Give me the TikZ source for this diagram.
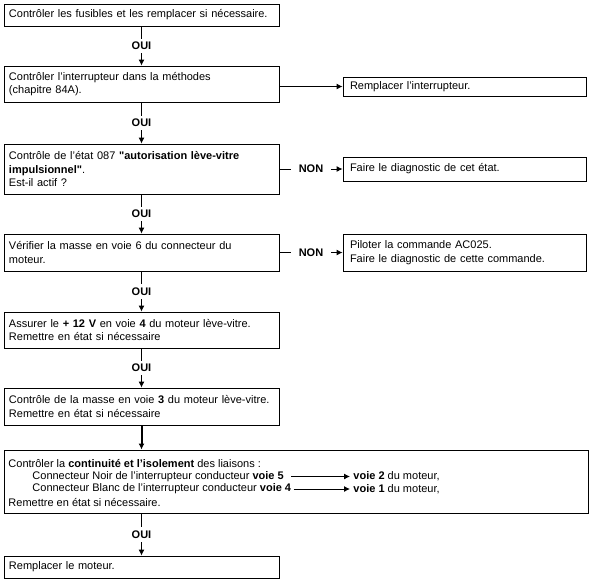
\documentclass[tikz,border=0pt]{standalone}
\usepackage{fontspec}
\setmainfont{Liberation Sans}
\usetikzlibrary{arrows.meta}

\begin{document}
\begin{tikzpicture}[x=1pt,y=-1pt,line width=0.9pt]
\tikzstyle{every node}=[font=\fontsize{11}{13.5}\selectfont]
\tikzstyle{box}=[draw, rectangle, inner xsep=5pt, inner ysep=0pt, text width=265pt, align=left]
\tikzstyle{rbox}=[box, inner xsep=7pt, text width=229pt]
\tikzstyle{lab}=[fill=white, font=\fontsize{11}{13.5}\selectfont\bfseries, inner xsep=8pt, inner ysep=3.5pt]
\tikzstyle{link}=[-{Latex[length=6pt,width=6pt]}]
\useasboundingbox (0,0) rectangle (592,579);
% main column
\node (b1) [box, minimum height=22pt] at (141.5,15) {Contrôler les fusibles et les remplacer si nécessaire.};
\node (b2) [box, minimum height=36pt] at (141.5,84) {Contrôler l'interrupteur dans la méthodes\\(chapitre 84A).};
\node (b3) [box, minimum height=50pt] at (141.5,169) {Contrôle de l'état 087 \textbf{\textquotedbl autorisation lève-vitre}\\\textbf{impulsionnel\textquotedbl}.\\Est-il actif ?};
\node (b4) [box, minimum height=37pt] at (141.5,252.5) {Vérifier la masse en voie 6 du connecteur du\\moteur.};
\node (b5) [box, minimum height=36pt] at (141.5,330) {Assurer le \textbf{+ 12 V} en voie \textbf{4} du moteur lève-vitre.\\Remettre en état si nécessaire};
\node (b6) [box, minimum height=37pt] at (141.5,406.5) {Contrôle de la masse en voie \textbf{3} du moteur lève-vitre.\\Remettre en état si nécessaire};
\node (b7) [draw, rectangle, minimum width=584pt, minimum height=63pt] at (296,481.5) {};
\node (b8) [box, minimum height=22pt] at (141.5,567) {Remplacer le moteur.};
% right column
\node (r1) [rbox, minimum height=19pt] at (464.5,86.5) {Remplacer l'interrupteur.};
\node (r2) [rbox, minimum height=24pt] at (464.5,169) {Faire le diagnostic de cet état.};
\node (r3) [rbox, minimum height=37pt] at (464.5,252.5) {Piloter la commande AC025.\\Faire le diagnostic de cette commande.};
% text of the wide box
\node (t1) [anchor=west, inner sep=0pt] at (8,464) {Contrôler la \textbf{continuité et l'isolement} des liaisons :};
\node (n5) [anchor=west, inner sep=0pt] at (32,476.5) {Connecteur Noir de l'interrupteur conducteur \textbf{voie 5}};
\node (n4) [anchor=west, inner sep=0pt] at (32,489) {Connecteur Blanc de l'interrupteur conducteur \textbf{voie 4}};
\node (t4) [anchor=west, inner sep=0pt] at (8,502) {Remettre en état si nécessaire.};
\node (m2) [anchor=west, inner sep=0pt] at (353,476.5) {\textbf{voie 2} du moteur,};
\node (m1) [anchor=west, inner sep=0pt] at (353,489) {\textbf{voie 1} du moteur,};
\draw[link] (n5.east) ++(7,0) -- ([xshift=-3pt]m2.west);
\draw[link] (n4.east) ++(2,0) -- ([xshift=-3pt]m1.west);
% connectors
\draw[link] (b1) -- node[lab] {OUI} (b2);
\draw[link] (b2) -- node[lab] {OUI} (b3);
\draw[link] (b3) -- node[lab] {OUI} (b4);
\draw[link] (b4) -- node[lab] {OUI} (b5);
\draw[link] (b5) -- node[lab] {OUI} (b6);
\draw[link, line width=2pt] (b6) -- (b6 |- b7.north);
\draw[link] (b7.south -| b8) -- node[lab] {OUI} (b8);
\draw[link] (b2.east |- r1.west) -- (r1.west);
\draw[link] (b3.east) -- node[lab] {NON} (r2.west);
\draw[link] (b4.east) -- node[lab] {NON} (r3.west);
\end{tikzpicture}
\end{document}
